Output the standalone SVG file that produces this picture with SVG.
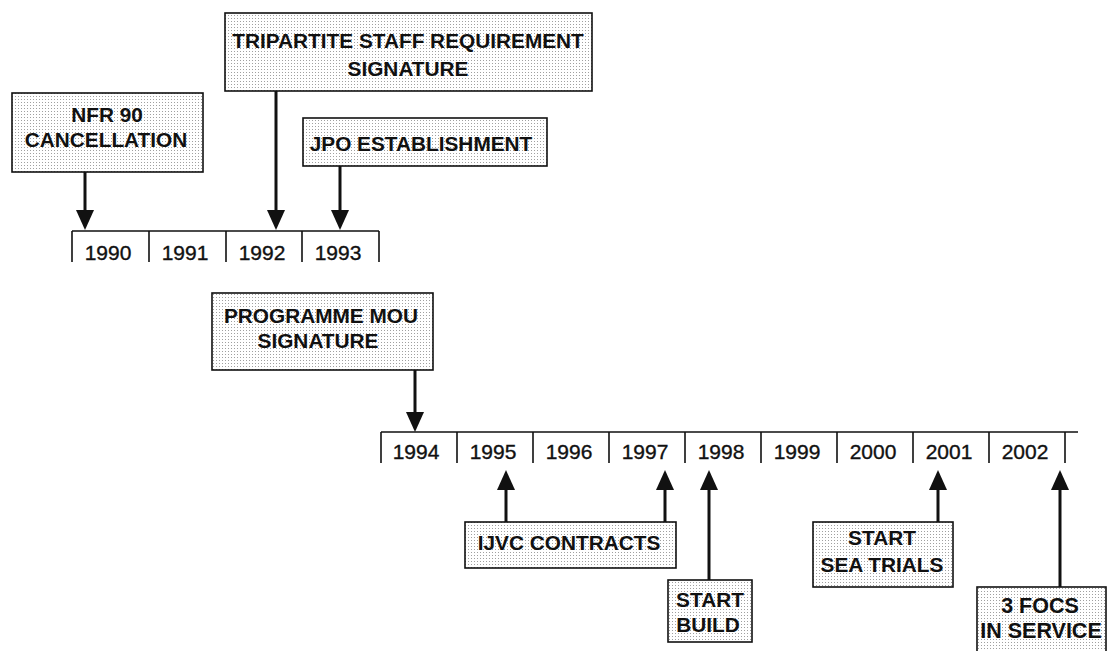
<svg xmlns="http://www.w3.org/2000/svg" width="1107" height="651" viewBox="0 0 1107 651">
<style>
.box{fill:url(#dots);stroke:#111;stroke-width:1.6}
.lbl{font-family:"Liberation Sans",Arial,sans-serif;font-weight:bold;font-size:20.8px;fill:#111;text-anchor:middle}
.yr{font-family:"Liberation Sans",Arial,sans-serif;font-size:21px;fill:#111;stroke:#111;stroke-width:0.35;text-anchor:middle}
.tl{stroke:#111;stroke-width:1.6;fill:none}
.arr{stroke:#111;stroke-width:3;fill:none;marker-end:url(#head)}
</style>
<defs>
<pattern id="dots" width="3" height="3" patternUnits="userSpaceOnUse">
<rect width="3" height="3" fill="#ffffff"/>
<rect width="1" height="1" fill="#a0a0a0"/>
</pattern>
<marker id="head" markerUnits="userSpaceOnUse" viewBox="0 0 20 18" markerWidth="20" markerHeight="18" refX="6" refY="9" orient="auto">
<path d="M0,0 L20,9 L0,18 Z" fill="#111"/>
</marker>
</defs>
<rect width="1107" height="651" fill="#ffffff"/>

<g id="timeline-1990-1993">
<path class="tl" d="M72,231 H379 M72,231 V262 M149,231 V262 M226,231 V262 M302,231 V262 M379,231 V262"/>
<text class="yr" x="108" y="260">1990</text>
<text class="yr" x="185" y="260">1991</text>
<text class="yr" x="262" y="260">1992</text>
<text class="yr" x="338" y="260">1993</text>
</g>

<g id="timeline-1994-2002">
<path class="tl" d="M381,432 H1078 M381,432 V463 M457,432 V463 M533,432 V463 M609,432 V463 M685,432 V463 M761,432 V463 M837,432 V463 M913,432 V463 M989,432 V463 M1065,432 V463"/>
<text class="yr" x="416" y="459">1994</text>
<text class="yr" x="493" y="459">1995</text>
<text class="yr" x="569" y="459">1996</text>
<text class="yr" x="645" y="459">1997</text>
<text class="yr" x="721" y="459">1998</text>
<text class="yr" x="797" y="459">1999</text>
<text class="yr" x="873" y="459">2000</text>
<text class="yr" x="949" y="459">2001</text>
<text class="yr" x="1025" y="459">2002</text>
</g>

<g id="nfr90">
<rect class="box" x="12" y="93" width="191" height="79"/>
<text class="lbl" x="107" y="122">NFR 90</text>
<text class="lbl" x="106" y="147">CANCELLATION</text>
</g>

<g id="tripartite">
<rect class="box" x="225" y="13" width="367" height="78"/>
<text class="lbl" x="408" y="48">TRIPARTITE STAFF REQUIREMENT</text>
<text class="lbl" x="408" y="76">SIGNATURE</text>
</g>

<g id="jpo">
<rect class="box" x="303" y="118" width="244" height="48"/>
<text class="lbl" x="421" y="151">JPO ESTABLISHMENT</text>
</g>

<g id="programme-mou">
<rect class="box" x="212" y="293" width="221" height="77"/>
<text class="lbl" x="321" y="323">PROGRAMME MOU</text>
<text class="lbl" x="318" y="348">SIGNATURE</text>
</g>

<g id="ijvc">
<rect class="box" x="465" y="522" width="211" height="46"/>
<text class="lbl" x="569" y="550">IJVC CONTRACTS</text>
</g>

<g id="start-build">
<rect class="box" x="668" y="580" width="84" height="62"/>
<text class="lbl" x="710" y="607">START</text>
<text class="lbl" x="708" y="632">BUILD</text>
</g>

<g id="sea-trials">
<rect class="box" x="813" y="522" width="140" height="65"/>
<text class="lbl" x="882" y="545">START</text>
<text class="lbl" x="882" y="572">SEA TRIALS</text>
</g>

<g id="focs">
<rect class="box" x="977" y="587" width="129" height="66"/>
<text class="lbl" x="1040" y="613" style="font-size:21.5px">3 FOCS</text>
<text class="lbl" x="1041" y="638" style="font-size:21.5px">IN SERVICE</text>
</g>

<g id="connectors">
<line class="arr" x1="85" y1="172" x2="85" y2="216"/>
<line class="arr" x1="276" y1="91" x2="276" y2="216"/>
<line class="arr" x1="340" y1="166" x2="340" y2="216"/>
<line class="arr" x1="415" y1="370" x2="415" y2="418"/>
<line class="arr" x1="506" y1="522" x2="506" y2="484"/>
<line class="arr" x1="665" y1="522" x2="665" y2="484"/>
<line class="arr" x1="709" y1="580" x2="709" y2="484"/>
<line class="arr" x1="938" y1="522" x2="938" y2="484"/>
<line class="arr" x1="1060" y1="587" x2="1060" y2="484"/>
</g>
</svg>
